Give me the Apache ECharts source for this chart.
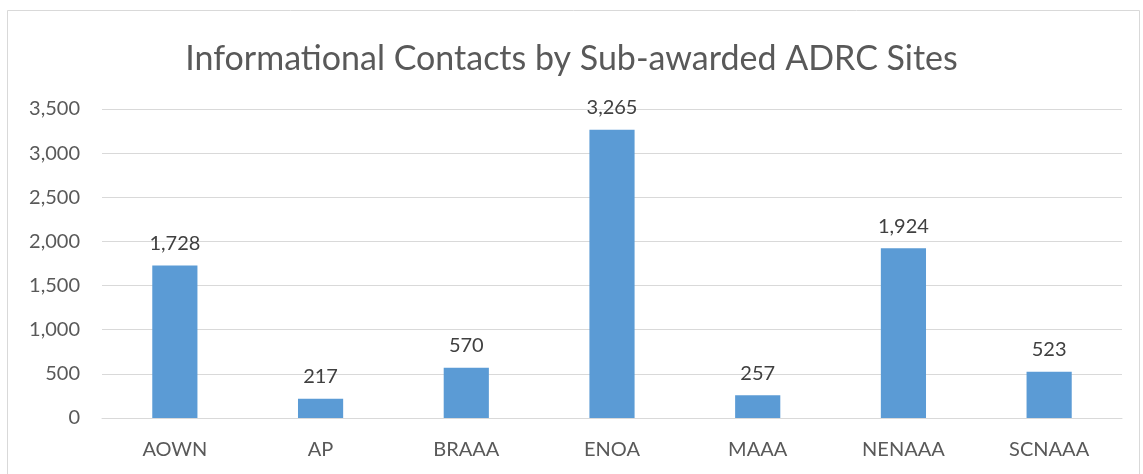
<!DOCTYPE html>
<html>
<head>
<meta charset="utf-8">
<script src="https://cdn.jsdelivr.net/npm/echarts@6/dist/echarts.min.js"></script>
<style>
  html, body { margin: 0; padding: 0; background: #fff; }
  #main { width: 1143px; height: 474px; }
</style>
</head>
<body>
<div id="main"></div>
<script type="text/javascript">
    var categories = ['AOWN', 'AP', 'BRAAA', 'ENOA', 'MAAA', 'NENAAA', 'SCNAAA'];
    var contacts = [1728, 217, 570, 3265, 257, 1924, 523];
    var yTicks = [0, 500, 1000, 1500, 2000, 2500, 3000, 3500];

    var myChart = echarts.init(document.getElementById('main'));
    var font = 'Lato, "Open Sans", sans-serif';

    var option = {
        animation: false,
        backgroundColor: '#ffffff',
        title: {
            text: 'Informational Contacts by Sub-awarded ADRC Sites',
            left: 'center',
            top: 37,
            textStyle: {
                fontFamily: font,
                fontSize: 34,
                fontWeight: 'normal',
                color: '#595959'
            }
        },
        graphic: [{
            type: 'rect',
            silent: true,
            shape: { x: 7.5, y: 10.5, width: 1132, height: 500 },
            style: { fill: 'none', stroke: '#D9D9D9', lineWidth: 1 }
        }],
        grid: {
            left: 102,
            right: 21,
            top: 109,
            bottom: 56,
            containLabel: false
        },
        xAxis: [{
            type: 'category',
            data: categories,
            axisTick: { show: false },
            axisLine: { lineStyle: { color: '#D9D9D9', width: 1 } },
            axisLabel: {
                fontFamily: font,
                fontSize: 20,
                color: '#595959',
                margin: 22
            }
        }],
        yAxis: [{
            type: 'value',
            min: yTicks[0],
            max: yTicks[yTicks.length - 1],
            interval: 500,
            axisLine: { show: false },
            axisTick: { show: false },
            splitLine: { lineStyle: { color: '#D9D9D9', width: 1 } },
            axisLabel: {
                fontFamily: font,
                fontSize: 20,
                color: '#595959',
                margin: 22,
                formatter: function (v) { return v.toLocaleString('en-US'); }
            }
        }],
        series: [{
            name: 'Contacts',
            type: 'bar',
            data: contacts,
            barWidth: '31%',
            itemStyle: { color: '#5B9BD5' },
            label: {
                show: true,
                position: 'top',
                distance: 12,
                fontFamily: font,
                fontSize: 20,
                color: '#404040',
                formatter: function (p) { return p.value.toLocaleString('en-US'); }
            }
        }]
    };
    myChart.setOption(option);
</script>
</body>
</html>
